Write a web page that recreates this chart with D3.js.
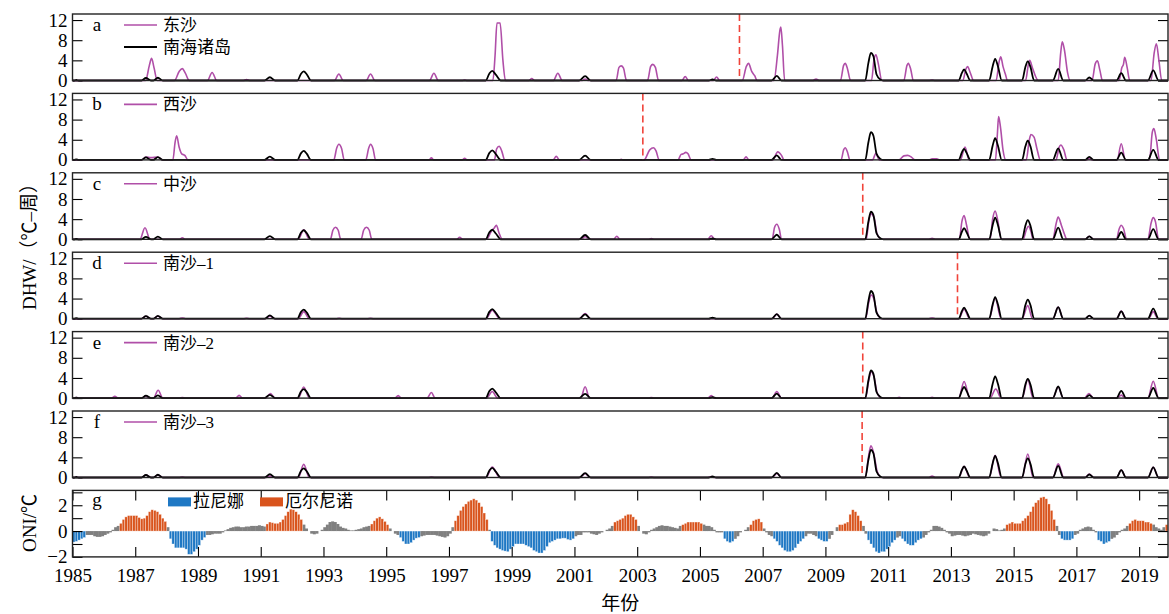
<!DOCTYPE html>
<html>
<head>
<meta charset="utf-8">
<script src="https://cdn.jsdelivr.net/npm/d3@7"></script>
<style>
  body { margin: 0; background: #fff; }
  svg text { font-family: "Liberation Serif", "Times New Roman", "Noto Sans CJK SC", serif; fill: #000; }
</style>
</head>
<body>
<svg id="chart" width="1169" height="614"></svg>
<script>
// ------- data -------
const yearTicks = d3.range(1985, 2020, 2);
const panelLetters = ["a", "b", "c", "d", "e", "f"];
const siteNames = ["东沙", "西沙", "中沙", "南沙–1", "南沙–2", "南沙–3"];
const regionName = "南海诸岛";
const bleachYears = [2006.26, 2003.18, 2010.19, 2013.21, 2010.19, 2010.17];

// DHW vertices [year, ℃-week], zero stretches are implied between humps
const regionDHW = [
  [1985.05,0],[1985.12,0.1],[1985.2,0],
  [1987.2,0],[1987.34,0.5],[1987.5,0],[1987.58,0],[1987.72,0.55],[1987.88,0],
  [1991.12,0],[1991.29,0.65],[1991.46,0],
  [1992.17,0],[1992.28,1.3],[1992.37,1.8],[1992.47,1.2],[1992.6,0],
  [1998.17,0],[1998.29,1.4],[1998.38,1.9],[1998.5,1.1],[1998.65,0],
  [2001.15,0],[2001.34,0.85],[2001.52,0],
  [2005.28,0],[2005.4,0.2],[2005.52,0],
  [2007.28,0],[2007.45,0.9],[2007.6,0],
  [2010.27,0],[2010.37,3.5],[2010.45,5.5],[2010.53,4.8],[2010.63,1.2],[2010.75,0.2],[2010.85,0],
  [2013.25,0],[2013.35,1.5],[2013.42,2.2],[2013.5,1.4],[2013.62,0],
  [2014.22,0],[2014.33,2.8],[2014.41,4.3],[2014.5,2.8],[2014.62,0],
  [2015.27,0],[2015.37,2.6],[2015.45,3.8],[2015.54,2.6],[2015.65,0],
  [2016.25,0],[2016.42,2.3],[2016.58,0],
  [2017.28,0],[2017.41,0.6],[2017.55,0],
  [2018.28,0],[2018.43,1.45],[2018.58,0],
  [2019.28,0],[2019.45,2.0],[2019.62,0]
];

const dongshaDHW = [
  [1987.33,0],[1987.45,3.0],[1987.52,4.4],[1987.6,2.5],[1987.7,0],
  [1988.25,0],[1988.4,1.8],[1988.5,2.35],[1988.6,1.4],[1988.72,0],
  [1989.3,0],[1989.45,1.6],[1989.6,0],
  [1990.45,0],[1990.55,0.2],[1990.65,0],
  [1993.35,0],[1993.49,1.3],[1993.63,0],
  [1994.36,0],[1994.5,1.3],[1994.64,0],
  [1996.38,0],[1996.52,1.45],[1996.66,0],
  [1997.42,0],[1997.5,0.1],[1997.58,0],
  [1998.4,0],[1998.47,5],[1998.53,11.4],[1998.63,11.4],[1998.72,4],[1998.8,0],
  [1999.55,0],[1999.64,0.4],[1999.73,0],
  [2000.33,0],[2000.47,1.45],[2000.61,0],
  [2001.25,0],[2001.34,0.3],[2001.45,0],
  [2002.33,0],[2002.42,2.6],[2002.49,2.9],[2002.56,2.5],[2002.66,0],
  [2003.33,0],[2003.43,2.8],[2003.5,3.2],[2003.58,2.6],[2003.68,0],
  [2004.43,0],[2004.53,0.8],[2004.63,0],
  [2005.43,0],[2005.53,0.7],[2005.63,0],
  [2006.35,0],[2006.48,2.8],[2006.55,3.4],[2006.65,1.8],[2006.75,0.9],[2006.82,0],
  [2007.36,0],[2007.47,5],[2007.55,10.0],[2007.58,10.6],[2007.63,7],[2007.7,0],
  [2008.6,0],[2008.7,0.3],[2008.8,0],
  [2009.48,0],[2009.58,3.0],[2009.63,3.4],[2009.7,2.4],[2009.8,0],
  [2010.47,0],[2010.55,4.2],[2010.61,5.1],[2010.68,3.5],[2010.8,0],
  [2011.5,0],[2011.6,3.0],[2011.64,3.4],[2011.72,2.2],[2011.8,0],
  [2012.3,0],[2012.4,0.1],[2012.5,0],
  [2013.38,0],[2013.48,2.3],[2013.53,2.75],[2013.62,1.5],[2013.72,0],
  [2014.44,0],[2014.54,3.8],[2014.59,4.7],[2014.66,2.8],[2014.74,1.2],[2014.8,0],
  [2015.38,0],[2015.47,3.2],[2015.51,4.0],[2015.6,2.5],[2015.7,0.8],[2015.78,0],
  [2016.42,0],[2016.5,5.5],[2016.55,7.7],[2016.62,6],[2016.72,1.5],[2016.8,0],
  [2017.5,0],[2017.6,3.3],[2017.67,3.9],[2017.75,2.0],[2017.83,0],
  [2018.36,0],[2018.45,2.6],[2018.5,3.2],[2018.54,4.6],[2018.62,2.5],[2018.7,0],
  [2019.38,0],[2019.48,5.5],[2019.55,7.3],[2019.63,4.0],[2019.72,0]
];

const xishaDHW = [
  [1987.2,0],[1987.34,0.55],[1987.5,0.45],[1987.72,0.55],[1987.88,0],
  [1988.2,0],[1988.27,3.5],[1988.32,4.8],[1988.4,2.5],[1988.48,1.2],[1988.58,0.9],[1988.68,0],
  [1993.33,0],[1993.42,2.3],[1993.49,3.1],[1993.58,2.2],[1993.66,0],
  [1994.35,0],[1994.44,2.3],[1994.5,3.1],[1994.58,2.2],[1994.66,0],
  [1996.36,0],[1996.44,0.4],[1996.52,0],
  [1997.42,0],[1997.5,0.3],[1997.58,0],
  [1998.45,0],[1998.52,2.2],[1998.6,2.7],[1998.68,1.8],[1998.78,0],
  [2000.32,0],[2000.42,0.7],[2000.52,0],
  [2002.42,0],[2002.49,0.1],[2002.56,0],
  [2003.22,0],[2003.4,2.0],[2003.52,2.4],[2003.6,1.8],[2003.7,0],
  [2004.3,0],[2004.4,1.1],[2004.47,1.2],[2004.55,1.5],[2004.62,1.2],[2004.72,0],
  [2006.38,0],[2006.47,0.6],[2006.56,0],
  [2007.32,0],[2007.48,1.6],[2007.6,0.9],[2007.68,0],
  [2009.5,0],[2009.58,2.0],[2009.63,2.4],[2009.7,1.6],[2009.78,0],
  [2010.5,0],[2010.61,1.3],[2010.72,0],
  [2011.35,0],[2011.5,0.8],[2011.62,0.9],[2011.75,0.5],[2011.85,0],
  [2012.3,0],[2012.4,0.2],[2012.55,0.2],[2012.65,0],
  [2013.3,0],[2013.45,2.55],[2013.58,0],
  [2014.42,0],[2014.48,5],[2014.52,8.6],[2014.58,6.5],[2014.66,2],[2014.75,0],
  [2015.4,0],[2015.5,4.0],[2015.55,5.05],[2015.65,4.5],[2015.75,2],[2015.85,0],
  [2016.35,0],[2016.45,2.5],[2016.5,2.95],[2016.6,2.0],[2016.7,0],
  [2017.32,0],[2017.41,0.3],[2017.5,0],
  [2018.3,0],[2018.43,3.2],[2018.56,0],
  [2019.33,0],[2019.42,5.5],[2019.47,6.2],[2019.55,4.0],[2019.65,0]
];

const zhongshaDHW = [
  [1987.15,0],[1987.31,2.3],[1987.47,0],
  [1988.4,0],[1988.5,0.3],[1988.6,0],
  [1992.2,0],[1992.37,1.9],[1992.55,0],
  [1993.22,0],[1993.3,1.8],[1993.38,2.4],[1993.47,1.8],[1993.55,0],
  [1994.2,0],[1994.28,1.8],[1994.37,2.4],[1994.46,1.8],[1994.54,0],
  [1997.25,0],[1997.34,0.4],[1997.44,0],
  [1998.2,0],[1998.35,1.6],[1998.45,2.3],[1998.51,2.8],[1998.6,1.2],[1998.7,0],
  [2001.2,0],[2001.34,0.5],[2001.48,0],
  [2002.25,0],[2002.35,0.6],[2002.45,0],
  [2003.35,0],[2003.45,0.15],[2003.55,0],
  [2005.25,0],[2005.36,0.7],[2005.47,0],
  [2007.3,0],[2007.38,2.4],[2007.45,3.0],[2007.53,2.0],[2007.6,0],
  [2010.3,0],[2010.38,3.5],[2010.45,5.1],[2010.55,4.3],[2010.65,1],[2010.8,0],
  [2012.3,0],[2012.4,0.2],[2012.5,0],
  [2013.27,0],[2013.35,3.5],[2013.42,4.7],[2013.5,2.8],[2013.6,0],
  [2014.25,0],[2014.33,4],[2014.41,5.6],[2014.5,3.5],[2014.6,0],
  [2015.3,0],[2015.4,1.8],[2015.47,2.6],[2015.55,1.6],[2015.62,0],
  [2016.25,0],[2016.35,3],[2016.42,4.4],[2016.52,2.8],[2016.62,1],[2016.7,0],
  [2017.28,0],[2017.41,0.6],[2017.55,0],
  [2018.28,0],[2018.36,2],[2018.43,2.8],[2018.5,2.2],[2018.6,0],
  [2019.28,0],[2019.38,3.2],[2019.45,4.3],[2019.52,3.5],[2019.62,0]
];

const nansha1DHW = [
  [1987.2,0],[1987.34,0.5],[1987.5,0],[1987.58,0],[1987.72,0.5],[1987.88,0],
  [1988.4,0],[1988.5,0.15],[1988.6,0],
  [1990.45,0],[1990.55,0.1],[1990.65,0],
  [1991.15,0],[1991.29,0.5],[1991.45,0],
  [1992.2,0],[1992.37,1.4],[1992.55,0],
  [1993.4,0],[1993.5,0.1],[1993.6,0],
  [1994.4,0],[1994.5,0.1],[1994.6,0],
  [1998.18,0],[1998.38,1.7],[1998.62,0],
  [2001.15,0],[2001.34,1.0],[2001.52,0],
  [2007.3,0],[2007.45,0.9],[2007.6,0],
  [2010.28,0],[2010.38,3.2],[2010.46,4.7],[2010.55,3.8],[2010.65,1],[2010.8,0],
  [2012.3,0],[2012.4,0.15],[2012.5,0],
  [2013.25,0],[2013.42,1.9],[2013.6,0],
  [2014.22,0],[2014.41,4.1],[2014.6,0],
  [2015.27,0],[2015.45,2.6],[2015.6,0],
  [2016.25,0],[2016.42,2.3],[2016.58,0],
  [2017.28,0],[2017.41,0.6],[2017.55,0],
  [2018.28,0],[2018.43,1.5],[2018.58,0],
  [2019.3,0],[2019.45,1.4],[2019.6,0]
];

const nansha2DHW = [
  [1985.05,0],[1985.12,0.1],[1985.2,0],
  [1986.25,0],[1986.35,0.35],[1986.45,0],
  [1987.2,0],[1987.34,0.4],[1987.45,0],
  [1987.58,0],[1987.73,1.55],[1987.88,0],
  [1988.4,0],[1988.5,0.1],[1988.6,0],
  [1990.2,0],[1990.31,0.55],[1990.42,0],
  [1991.15,0],[1991.31,0.9],[1991.46,0],
  [1992.2,0],[1992.37,2.2],[1992.55,0],
  [1995.28,0],[1995.38,0.5],[1995.48,0],
  [1996.3,0],[1996.44,1.1],[1996.56,0],
  [1998.2,0],[1998.38,1.3],[1998.55,0],
  [2001.2,0],[2001.34,2.25],[2001.48,0],
  [2003.35,0],[2003.45,0.1],[2003.55,0],
  [2005.25,0],[2005.36,0.5],[2005.47,0],
  [2007.3,0],[2007.45,1.3],[2007.6,0],
  [2010.28,0],[2010.38,3.5],[2010.46,5.2],[2010.55,4.2],[2010.65,1],[2010.8,0],
  [2011.25,0],[2011.35,0.15],[2011.45,0],
  [2012.3,0],[2012.4,0.15],[2012.5,0],
  [2013.25,0],[2013.42,3.3],[2013.6,0],
  [2014.25,0],[2014.43,1.8],[2014.6,0],
  [2015.27,0],[2015.45,3.7],[2015.62,0],
  [2016.25,0],[2016.42,2.2],[2016.58,0],
  [2017.25,0],[2017.4,0.9],[2017.55,0],
  [2018.3,0],[2018.43,0.6],[2018.55,0],
  [2019.28,0],[2019.45,3.35],[2019.62,0]
];

const nansha3DHW = [
  [1985.05,0],[1985.12,0.1],[1985.2,0],
  [1987.2,0],[1987.34,0.5],[1987.5,0],[1987.58,0],[1987.72,0.5],[1987.88,0],
  [1988.4,0],[1988.5,0.1],[1988.6,0],
  [1991.15,0],[1991.29,0.3],[1991.45,0],
  [1992.2,0],[1992.37,2.6],[1992.55,0],
  [1996.35,0],[1996.44,0.1],[1996.55,0],
  [1998.18,0],[1998.38,2.05],[1998.62,0],
  [2001.18,0],[2001.34,0.8],[2001.5,0],
  [2003.35,0],[2003.45,0.1],[2003.55,0],
  [2005.25,0],[2005.36,0.2],[2005.47,0],
  [2007.3,0],[2007.45,0.8],[2007.6,0],
  [2010.27,0],[2010.37,4.0],[2010.45,6.3],[2010.55,4.5],[2010.65,1.2],[2010.8,0],
  [2012.3,0],[2012.4,0.3],[2012.5,0],
  [2013.25,0],[2013.42,2.2],[2013.6,0],
  [2014.22,0],[2014.41,4.4],[2014.6,0],
  [2015.27,0],[2015.45,4.65],[2015.62,0],
  [2016.25,0],[2016.42,2.7],[2016.6,0],
  [2017.28,0],[2017.41,0.7],[2017.55,0],
  [2018.28,0],[2018.43,1.5],[2018.58,0],
  [2019.28,0],[2019.45,2.0],[2019.62,0]
];

const siteDHW = [dongshaDHW, xishaDHW, zhongshaDHW, nansha1DHW, nansha2DHW, nansha3DHW];

// monthly ONI (℃), Jan 1985 – Dec 2019, one row per year
const oni = [
  [-0.85,-0.8,-0.7,-0.6,-0.5,-0.3,-0.3,-0.3,-0.4,-0.45,-0.45,-0.4],
  [-0.3,-0.2,-0.1,0.1,0.3,0.4,0.6,0.9,1.1,1.2,1.2,1.2],
  [1.2,1.05,0.95,1.0,1.2,1.5,1.65,1.6,1.5,1.3,1.0,0.75],
  [0.3,-0.6,-1.0,-1.3,-1.3,-1.3,-1.3,-1.4,-1.8,-1.8,-1.6,-1.4],
  [-1.1,-0.7,-0.5,-0.3,-0.3,-0.25,-0.2,-0.2,-0.2,-0.1,0.05,0.15],
  [0.25,0.3,0.35,0.35,0.3,0.3,0.35,0.35,0.4,0.4,0.4,0.45],
  [0.4,0.35,0.55,0.7,0.65,0.6,0.6,0.7,0.9,1.2,1.5,1.7],
  [1.65,1.5,1.3,0.9,0.5,0.2,0.0,-0.2,-0.25,-0.2,0.0,0.1],
  [0.3,0.5,0.7,0.75,0.7,0.55,0.35,0.25,0.2,0.1,0.05,0.05],
  [0.1,0.15,0.2,0.3,0.35,0.4,0.55,0.8,1.0,1.1,0.95,0.75],
  [0.5,0.2,0.0,-0.2,-0.3,-0.5,-0.8,-1.0,-1.0,-0.9,-0.7,-0.55],
  [-0.5,-0.4,-0.35,-0.3,-0.3,-0.3,-0.3,-0.35,-0.4,-0.45,-0.5,-0.4],
  [-0.2,0.3,0.8,1.2,1.6,1.9,2.1,2.3,2.4,2.5,2.4,2.2],
  [1.9,1.4,0.9,0.1,-0.8,-1.1,-1.3,-1.4,-1.5,-1.55,-1.6,-1.4],
  [-1.2,-1.0,-1.0,-1.0,-1.0,-1.1,-1.2,-1.3,-1.5,-1.6,-1.7,-1.7],
  [-1.5,-1.2,-0.9,-0.8,-0.7,-0.6,-0.6,-0.55,-0.55,-0.65,-0.7,-0.6],
  [-0.4,-0.3,-0.3,-0.1,-0.1,-0.1,-0.2,-0.25,-0.3,-0.2,-0.1,0.0],
  [0.1,0.2,0.4,0.7,0.8,0.9,1.0,1.2,1.3,1.3,1.1,0.9],
  [0.4,0.0,-0.2,-0.25,-0.1,0.1,0.2,0.3,0.4,0.45,0.4,0.4],
  [0.35,0.3,0.25,0.2,0.4,0.5,0.6,0.7,0.7,0.7,0.7,0.7],
  [0.6,0.5,0.4,0.4,0.3,0.1,-0.1,-0.1,-0.1,-0.6,-0.8,-0.9],
  [-0.8,-0.6,-0.4,-0.1,0.0,0.1,0.3,0.5,0.8,0.9,0.95,0.7],
  [0.2,-0.1,-0.3,-0.4,-0.6,-0.8,-1.1,-1.3,-1.5,-1.6,-1.6,-1.5],
  [-1.3,-1.0,-0.8,-0.6,-0.4,-0.2,-0.2,-0.3,-0.4,-0.6,-0.7,-0.8],
  [-0.8,-0.6,-0.3,0.0,0.3,0.5,0.5,0.6,0.7,1.3,1.65,1.5],
  [1.2,0.8,0.4,-0.2,-0.7,-1.0,-1.3,-1.6,-1.7,-1.6,-1.6,-1.4],
  [-1.2,-0.9,-0.7,-0.5,-0.4,-0.6,-0.8,-1.0,-1.1,-1.1,-0.9,-0.7],
  [-0.6,-0.5,-0.3,-0.1,0.1,0.4,0.4,0.35,0.25,0.1,-0.1,-0.2],
  [-0.4,-0.35,-0.3,-0.3,-0.35,-0.4,-0.35,-0.3,-0.2,-0.25,-0.3,-0.35],
  [-0.4,-0.35,-0.2,0.0,0.2,0.15,0.05,0.1,0.2,0.5,0.6,0.7],
  [0.6,0.6,0.6,0.8,1.0,1.2,1.5,1.9,2.2,2.4,2.6,2.65],
  [2.5,2.1,1.6,0.9,0.4,-0.3,-0.6,-0.7,-0.7,-0.7,-0.6,-0.3],
  [-0.2,0.1,0.2,0.3,0.35,0.3,0.1,-0.1,-0.7,-0.8,-1.0,-0.9],
  [-0.8,-0.6,-0.5,-0.3,-0.1,0.1,0.2,0.4,0.6,0.8,0.9,0.8],
  [0.8,0.8,0.7,0.7,0.6,0.5,0.3,0.2,0.1,0.3,0.5,0.5]
];
// event periods [first month, last month] as "YYYY-MM"
const elNinoPeriods = [
  ["1986-07","1987-12"],["1991-03","1992-04"],["1994-07","1995-01"],["1997-03","1998-03"],
  ["2002-04","2002-12"],["2004-06","2005-01"],["2006-08","2006-12"],["2009-06","2010-02"],
  ["2014-10","2016-04"],["2018-09","2019-05"],["2019-11","2019-12"]
];
const laNinaPeriods = [
  ["1985-01","1985-05"],["1988-02","1989-03"],["1995-06","1996-01"],["1998-05","2000-12"],
  ["2005-10","2006-01"],["2007-05","2008-04"],["2008-10","2009-01"],["2010-05","2011-03"],
  ["2011-06","2012-01"],["2016-07","2016-11"],["2017-09","2018-01"]
];

// ------- drawing -------
const svg = d3.select("#chart");
const left = 72.5, right = 1168;
const panelH = 66.5;
const panelTop = i => 14 + i * 79.4;
const x = d3.scaleLinear().domain([1985, 2019.92]).range([left, right]);

const PURPLE = "#b04fa8", RED = "#f0443a", BLUE = "#1f78c4", ORANGE = "#d9541d", GRAY = "#808080";

svg.append("defs").append("clipPath").attr("id", "plotClip")
  .append("rect").attr("x", left).attr("y", 0).attr("width", right - left).attr("height", 614);

const line = y => d3.line().x(d => x(d[0])).y(d => y(d[1])).curve(d3.curveMonotoneX);
const withEnds = pts => [[1985, 0], ...pts, [2019.92, 0]];

const styleAxis = g => {
  g.select(".domain").remove();
  g.selectAll("line").attr("stroke", "#000").attr("stroke-width", 1.1);
  g.selectAll("text").style("font-size", "19px")
    .style("font-family", "'Liberation Serif','Times New Roman',serif");
};

siteDHW.forEach((series, i) => {
  const top = panelTop(i), bottom = top + panelH;
  const y = d3.scaleLinear().domain([0, 13.2]).range([bottom, top]);
  const g = svg.append("g");

  g.append("g").attr("transform", `translate(${left},0)`)
    .call(d3.axisLeft(y).tickValues([0, 4, 8, 12]).tickSize(-10).tickPadding(5))
    .call(styleAxis);
  g.append("g").attr("transform", `translate(${right},0)`)
    .call(d3.axisRight(y).tickValues([0, 4, 8, 12]).tickSize(-10).tickFormat(""))
    .call(styleAxis);

  const plot = g.append("g").attr("clip-path", "url(#plotClip)");
  plot.append("path").datum(withEnds(series))
    .attr("d", line(y)).attr("fill", "none")
    .attr("stroke", PURPLE).attr("stroke-width", 1.6);
  plot.append("path").datum(withEnds(regionDHW))
    .attr("d", line(y)).attr("fill", "none")
    .attr("stroke", "#000").attr("stroke-width", 1.8);

  g.append("line")
    .attr("x1", x(bleachYears[i])).attr("x2", x(bleachYears[i]))
    .attr("y1", top).attr("y2", bottom)
    .attr("stroke", RED).attr("stroke-width", 1.6).attr("stroke-dasharray", "7,4");

  g.append("rect").attr("x", left).attr("y", top)
    .attr("width", right - left).attr("height", panelH)
    .attr("fill", "none").attr("stroke", "#222").attr("stroke-width", 1.4);

  g.append("text").attr("x", 97).attr("y", top + 17)
    .attr("text-anchor", "middle").style("font-size", "19px").text(panelLetters[i]);

  const lg = g.append("g").attr("transform", `translate(124,${top + 11})`);
  lg.append("line").attr("x1", 0).attr("x2", 33).attr("y1", 0).attr("y2", 0)
    .attr("stroke", PURPLE).attr("stroke-width", 1.6);
  lg.append("text").attr("x", 39).attr("y", 6).style("font-size", "17px").text(siteNames[i]);
  if (i === 0) {
    lg.append("line").attr("x1", 0).attr("x2", 33).attr("y1", 22).attr("y2", 22)
      .attr("stroke", "#000").attr("stroke-width", 1.8);
    lg.append("text").attr("x", 39).attr("y", 28).style("font-size", "17px").text(regionName);
  }
});

// ------- panel g: ONI -------
(() => {
  const top = panelTop(6), bottom = top + panelH;
  const y = d3.scaleLinear().domain([-2, 3.15]).range([bottom, top]);
  const g = svg.append("g");
  const months = oni.flat().map((v, k) => ({ t: 1985 + k / 12, v, key: `${1985 + Math.floor(k / 12)}-${String(k % 12 + 1).padStart(2, "0")}` }));
  const inPeriod = (key, periods) => periods.some(([a, b]) => key >= a && key <= b);
  months.forEach(d => {
    d.kind = inPeriod(d.key, elNinoPeriods) ? "nino" : inPeriod(d.key, laNinaPeriods) ? "nina" : "neutral";
  });
  const bw = x(1985 + 1 / 12) - x(1985);

  const plot = g.append("g").attr("clip-path", "url(#plotClip)");
  plot.selectAll("rect.gray").data(months.filter(d => d.kind === "neutral")).enter()
    .append("rect").attr("class", "gray")
    .attr("x", d => x(d.t) - 0.2).attr("width", bw + 0.4)
    .attr("y", d => Math.min(y(d.v), y(0))).attr("height", d => Math.abs(y(d.v) - y(0)))
    .attr("fill", GRAY);
  plot.selectAll("rect.ev").data(months.filter(d => d.kind !== "neutral")).enter()
    .append("rect").attr("class", "ev")
    .attr("x", d => x(d.t)).attr("width", bw)
    .attr("y", d => Math.min(y(d.v), y(0))).attr("height", d => Math.abs(y(d.v) - y(0)))
    .attr("fill", d => d.kind === "nino" ? ORANGE : BLUE)
    .attr("stroke", "rgba(255,255,255,0.55)").attr("stroke-width", 0.6);

  g.append("g").attr("transform", `translate(${left},0)`)
    .call(d3.axisLeft(y).tickValues(d3.range(-2, 4)).tickSize(-10).tickPadding(5)
      .tickFormat(d => d % 2 === 0 ? d3.format("d")(d) : ""))
    .call(styleAxis);
  g.append("g").attr("transform", `translate(${right},0)`)
    .call(d3.axisRight(y).tickValues(d3.range(-2, 4)).tickSize(-10).tickFormat(""))
    .call(styleAxis);
  g.append("g").attr("transform", `translate(0,${bottom})`)
    .call(d3.axisBottom(x).tickValues(yearTicks).tickSize(-10).tickPadding(12).tickFormat(d3.format("d")))
    .call(styleAxis);
  g.append("g").attr("transform", `translate(0,${top})`)
    .call(d3.axisTop(x).tickValues(yearTicks).tickSize(-10).tickFormat(""))
    .call(styleAxis);

  g.append("rect").attr("x", left).attr("y", top)
    .attr("width", right - left).attr("height", panelH)
    .attr("fill", "none").attr("stroke", "#222").attr("stroke-width", 1.4);

  g.append("text").attr("x", 97).attr("y", top + 16)
    .attr("text-anchor", "middle").style("font-size", "19px").text("g");

  const lg = g.append("g").attr("transform", `translate(168,${top + 7})`);
  lg.append("rect").attr("x", 0).attr("y", 0).attr("width", 23).attr("height", 9).attr("fill", BLUE);
  lg.append("text").attr("x", 25).attr("y", 10).style("font-size", "17px").text("拉尼娜");
  lg.append("rect").attr("x", 92).attr("y", 0).attr("width", 23).attr("height", 9).attr("fill", ORANGE);
  lg.append("text").attr("x", 117).attr("y", 10).style("font-size", "17px").text("厄尔尼诺");
})();

// axis titles
svg.append("text").attr("transform", "translate(36,242) rotate(-90)")
  .attr("text-anchor", "middle").style("font-size", "19px").text("DHW/（℃–周）");
svg.append("text").attr("transform", "translate(36,523) rotate(-90)")
  .attr("text-anchor", "middle").style("font-size", "19px").text("ONI/℃");
svg.append("text").attr("x", (left + right) / 2).attr("y", 610)
  .attr("text-anchor", "middle").style("font-size", "19px").text("年份");
</script>
</body>
</html>
